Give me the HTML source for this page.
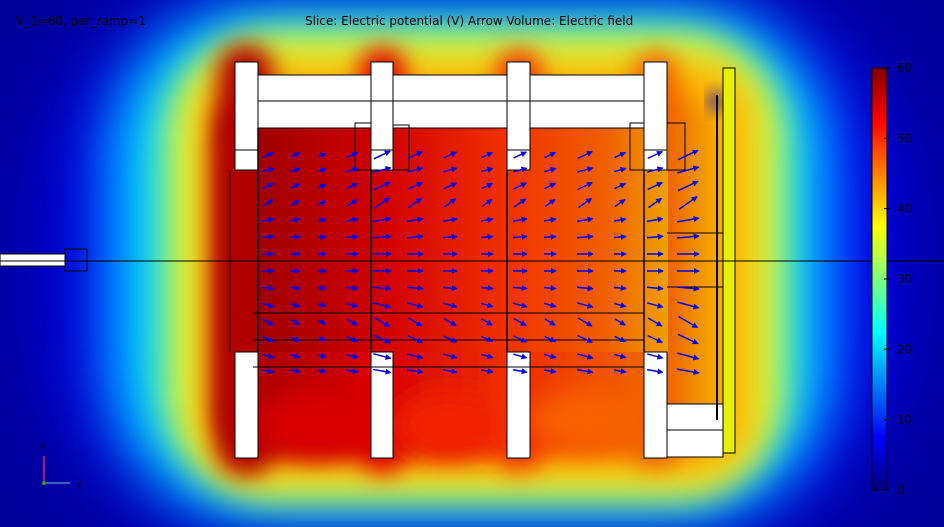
<!DOCTYPE html>
<html><head><meta charset="utf-8"><style>
html,body{margin:0;padding:0;background:#00008f;width:944px;height:527px;overflow:hidden;}
svg{display:block;font-family:"DejaVu Sans","Liberation Sans",sans-serif;}
</style></head><body>
<svg width="944" height="527" viewBox="0 0 944 527">
<defs>
<filter id="b60" x="-50%" y="-50%" width="200%" height="200%"><feGaussianBlur stdDeviation="50"/></filter>
<filter id="b30" x="-50%" y="-50%" width="200%" height="200%"><feGaussianBlur stdDeviation="30"/></filter>
<filter id="b18" x="-50%" y="-50%" width="200%" height="200%"><feGaussianBlur stdDeviation="18"/></filter>
<filter id="b12" x="-50%" y="-50%" width="200%" height="200%"><feGaussianBlur stdDeviation="12"/></filter>
<filter id="b8" x="-50%" y="-50%" width="200%" height="200%"><feGaussianBlur stdDeviation="8"/></filter>
<clipPath id="frame"><rect x="0" y="0" width="944" height="527"/></clipPath>
<linearGradient id="core" x1="0" x2="1" y1="0" y2="0">
<stop offset="0" stop-color="#a00000"/><stop offset="0.3" stop-color="#d00000"/>
<stop offset="0.6" stop-color="#f03000"/><stop offset="0.85" stop-color="#f06000"/><stop offset="1" stop-color="#f0a000"/></linearGradient>
<linearGradient id="cbar" x1="0" x2="0" y1="1" y2="0">
<stop offset="0" stop-color="#00007f"/><stop offset="0.125" stop-color="#0000ff"/><stop offset="0.375" stop-color="#00ffff"/>
<stop offset="0.625" stop-color="#ffff00"/><stop offset="0.875" stop-color="#ff0000"/><stop offset="1" stop-color="#7f0000"/></linearGradient>
<marker id="ah" markerWidth="4" markerHeight="4" refX="3.5" refY="2" orient="auto"><path d="M0,0 L4,2 L0,4z" fill="#0000ee"/></marker>
</defs>
<g clip-path="url(#frame)">
<rect x="0" y="0" width="944" height="527" fill="#00009a"/>
<rect x="60" y="0" width="830" height="527" rx="200" fill="#0000ff" filter="url(#b60)"/>
<rect x="110" y="5" width="720" height="515" rx="150" fill="#00d8ff" filter="url(#b30)"/>
<rect x="165" y="30" width="620" height="470" rx="110" fill="#d8ff40" filter="url(#b18)"/>
<rect x="195" y="60" width="560" height="420" rx="60" fill="#ffb000" filter="url(#b18)"/>
<rect x="215" y="95" width="500" height="360" rx="40" fill="url(#core)" filter="url(#b12)"/>
<g filter="url(#b12)">
<rect x="218" y="45" width="55" height="430" rx="25" fill="#b00000"/>
<rect x="360" y="48" width="45" height="425" rx="20" fill="#e00000"/>
<rect x="497" y="50" width="44" height="420" rx="20" fill="#f03000"/>
<rect x="634" y="52" width="44" height="415" rx="20" fill="#f06000"/>
<ellipse cx="318" cy="425" rx="60" ry="35" fill="#d80000"/>
<ellipse cx="450" cy="425" rx="55" ry="35" fill="#f02000"/>
<ellipse cx="588" cy="420" rx="55" ry="30" fill="#f86000"/>
</g>
<rect x="258" y="128" width="410" height="224" fill="url(#core)"/>
<ellipse cx="716" cy="101" rx="6" ry="10" fill="#0000c0" filter="url(#b8)"/>
</g>
<g fill="#fff" stroke="#000" stroke-width="1">
<rect x="0" y="254" width="65" height="12"/>
<rect x="65" y="249" width="22" height="22" fill="none"/>
<rect x="235" y="62" width="23" height="108"/><rect x="235" y="352" width="23" height="106"/>
<rect x="371" y="62" width="22" height="108"/><rect x="371" y="352" width="22" height="106"/>
<rect x="507" y="62" width="23" height="108"/><rect x="507" y="352" width="23" height="106"/>
<rect x="644" y="62" width="23" height="108"/><rect x="644" y="352" width="23" height="106"/>
<rect x="258" y="75" width="113" height="53"/><rect x="393" y="75" width="114" height="53"/><rect x="530" y="75" width="114" height="53"/>
<rect x="667" y="404" width="56" height="53"/>
<rect x="723" y="68" width="12" height="385" fill="#e6f000"/>
</g>
<g stroke="#000" fill="none" stroke-width="1">
<line x1="0" y1="261" x2="944" y2="261"/>
<line x1="258" y1="101" x2="644" y2="101"/>
<line x1="667" y1="430" x2="723" y2="430"/>
<line x1="235" y1="150" x2="258" y2="150"/><line x1="371" y1="150" x2="393" y2="150"/><line x1="507" y1="150" x2="530" y2="150"/><line x1="644" y1="150" x2="667" y2="150"/>
<rect x="355" y="123" width="16" height="47"/><rect x="393" y="125" width="16" height="45"/>
<rect x="630" y="123" width="14" height="47"/><rect x="667" y="123" width="18" height="47"/>
<line x1="253" y1="313" x2="644" y2="313"/><line x1="253" y1="340" x2="644" y2="340"/><line x1="253" y1="367" x2="644" y2="367"/>
<line x1="667" y1="233" x2="723" y2="233"/><line x1="667" y1="287" x2="723" y2="287"/>
<line x1="717" y1="95" x2="717" y2="420" stroke-width="2"/>
<line x1="230" y1="170" x2="230" y2="352"/>
<line x1="258" y1="128" x2="258" y2="352" stroke-width="1.5"/><line x1="371" y1="170" x2="371" y2="352" stroke-width="1.5"/>
<line x1="507" y1="170" x2="507" y2="352" stroke-width="1.5"/><line x1="644" y1="170" x2="644" y2="352" stroke-width="1.5"/>
</g>
<g id="arrows"></g>
<text x="16" y="25" font-size="12" fill="#000">V_1=60, par_ramp=1</text>
<text x="305" y="25" font-size="12" fill="#000">Slice: Electric potential (V)  Arrow Volume: Electric field</text>
<g>
<rect x="872" y="68" width="15" height="422" fill="url(#cbar)" stroke="#000"/>
<g id="cbticks" font-size="12" fill="#000"></g>
</g>
<g>
<line x1="44" y1="483" x2="44" y2="456" stroke="#e0206a" stroke-width="1.5"/>
<line x1="44" y1="483" x2="70" y2="483" stroke="#4a80d0" stroke-width="1.5"/>
<circle cx="44" cy="483" r="2" fill="#20a020"/>
<text x="40" y="449" font-size="9" fill="#000">x</text>
<text x="77" y="487" font-size="9" fill="#000">z</text>
</g>
<script>
const cbValues=[0,10,20,30,40,50,60];
const cbMin=0, cbMax=60;
const rowY=[155,170,186,203,220,237,254,271,288,305,322,339,356,371];
const colX=[268,295,322,352,382,415,450,487,520,550,585,620,655,688];
const rowAngle=[-25,-15,-25,-35,-10,-5,0,0,5,15,30,25,15,10];
const colLen=[12,10,8,12,18,16,14,12,14,12,16,12,16,22];
const ns='http://www.w3.org/2000/svg';
function yCb(v){return 490-(v-cbMin)/(cbMax-cbMin)*422;}
const tk=document.getElementById('cbticks');
cbValues.forEach(v=>{
 const t=document.createElementNS(ns,'text');
 
 
 t.setAttribute('x',897);t.setAttribute('y',yCb(v)+4);t.textContent=v;tk.appendChild(t);
 const l=document.createElementNS(ns,'line');
 
 
 l.setAttribute('x1',884);l.setAttribute('x2',890);l.setAttribute('y1',yCb(v));l.setAttribute('y2',yCb(v));l.setAttribute('stroke','#000');tk.appendChild(l);
});
const ag=document.getElementById('arrows');
rowY.forEach((y,i)=>colX.forEach((x,j)=>{
 const a=rowAngle[i]*Math.PI/180, L=colLen[j];
 const l=document.createElementNS(ns,'line');
 
 
 l.setAttribute('x1',x-L/2*Math.cos(a));l.setAttribute('y1',y-L/2*Math.sin(a));
 l.setAttribute('x2',x+L/2*Math.cos(a));l.setAttribute('y2',y+L/2*Math.sin(a));
 l.setAttribute('stroke','#0000ee');l.setAttribute('stroke-width','1.5');l.setAttribute('marker-end','url(#ah)');
 ag.appendChild(l);
}));
</script>
</svg>
</body></html>
